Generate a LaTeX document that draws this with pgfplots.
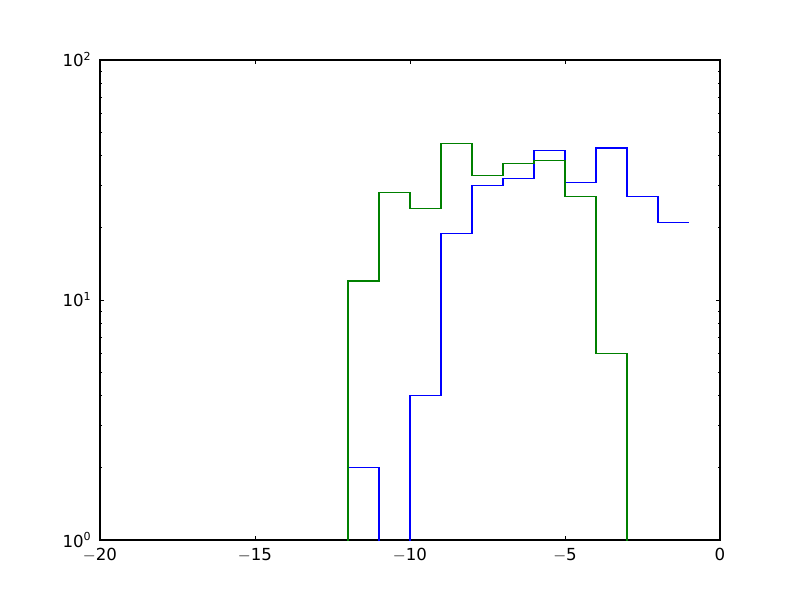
\documentclass[border=0pt]{standalone}
\usepackage{fontspec}
\setmainfont{DejaVu Sans}
\usepackage{pgfplots}
\pgfplotsset{compat=1.18}
\begin{document}
\fontsize{12}{14}\selectfont
\begin{tikzpicture}[x=1in,y=1in]
\useasboundingbox (-1,-0.6) rectangle (7,5.4);
\begin{axis}[
  at={(0,0)}, anchor=south west,
  scale only axis, width=6.2in, height=4.8in,
  xmin=-20, xmax=0, ymin=1, ymax=100,
  ymode=log,
  xtick={-20,-15,-10,-5,0},
  xticklabels={$-$20,$-$15,$-$10,$-$5,0},
  ytick={1,10,100},
  yticklabels={10\textsuperscript{0},10\textsuperscript{1},10\textsuperscript{2}},
  /pgf/number format/assume math mode=true,
  tick align=inside,
  major tick length=0.04in,
  minor tick length=0.02in,
  tick style={black, line width=0.5pt},
  axis line style={black, line width=0.8pt},
  ticklabel style={font=\fontsize{12}{14}\selectfont},
  xticklabel style={yshift=-2pt},
  yticklabel style={xshift=-2pt},
  clip=true,
]
\addplot[const plot mark left, color={rgb,1:red,0;green,0;blue,1}, line width=0.8pt] coordinates {
(-12,0.01) (-12,2) (-11,0.01) (-10,4) (-9,19) (-8,30) (-7,32) (-6,42) (-5,31) (-4,43) (-3,27) (-2,21) (-1,21)
};
\addplot[const plot mark left, color={rgb,1:red,0;green,0.5;blue,0}, line width=0.8pt] coordinates {
(-12,0.01) (-12,12) (-11,28) (-10,24) (-9,45) (-8,33) (-7,37) (-6,38) (-5,27) (-4,6) (-3,0.01)
};
\end{axis}
\end{tikzpicture}
\end{document}
